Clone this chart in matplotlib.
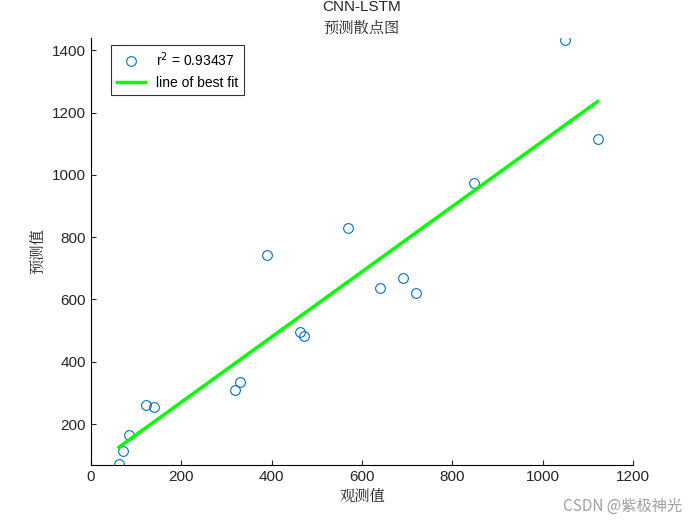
import matplotlib
matplotlib.use('Agg')
import matplotlib.pyplot as plt
import numpy as np
plt.rcParams['font.family'] = ['Liberation Sans', 'Noto Sans CJK SC']

obs = [62, 71, 84, 122, 140, 319, 330, 390, 463, 472, 569, 640, 691, 720, 848, 1049, 1122]
pred = [73, 114, 165, 260, 254, 308, 336, 743, 495, 482, 830, 636, 668, 620, 974, 1432, 1114]
r2_text = 'r$^2$ = 0.93437'

fig = plt.figure(figsize=(7, 5.25), dpi=100)
ax = fig.add_axes([0.13, 0.114, 0.774, 0.814])
ax.plot(obs, pred, 'o', mfc='none', mec='#0072BD', ms=7, mew=0.8, label=r2_text)
p = np.polyfit(obs, pred, 1)
xs = np.array([min(obs), max(obs)])
ax.plot(xs, np.polyval(p, xs), color='#00FF00', lw=2.5, label='line of best fit')
ax.set_xlim(0, 1200)
ax.set_ylim(68, 1440)
ax.set_xticks(range(0, 1201, 200))
ax.set_yticks(range(200, 1401, 200))
for s in ['top', 'right']:
    ax.spines[s].set_visible(False)
ax.tick_params(direction='in', labelsize=11, color='#262626', labelcolor='#262626')
ax.set_xlabel('观测值', fontsize=11, color='#262626', family=['Noto Serif CJK SC', 'Noto Sans CJK SC'])
ax.set_ylabel('预测值', fontsize=11, color='#262626', family=['Noto Serif CJK SC', 'Noto Sans CJK SC'])
ax.set_title('CNN-LSTM\n预测散点图', fontsize=11, color='#262626', pad=4, linespacing=1.5,
             family=['Liberation Sans', 'Noto Serif CJK SC', 'Noto Sans CJK SC'])
leg = ax.legend(loc='upper left', fancybox=False, edgecolor='black', fontsize=10, borderaxespad=0.5,
                bbox_to_anchor=(0.025, 1.0))
leg.get_frame().set_linewidth(0.8)
fig.text(0.975, 0.02, 'CSDN @紫极神光', ha='right', va='bottom', fontsize=11, color='#a0a0a0',
         family=['Noto Sans CJK SC'])
fig.savefig('out.png')
